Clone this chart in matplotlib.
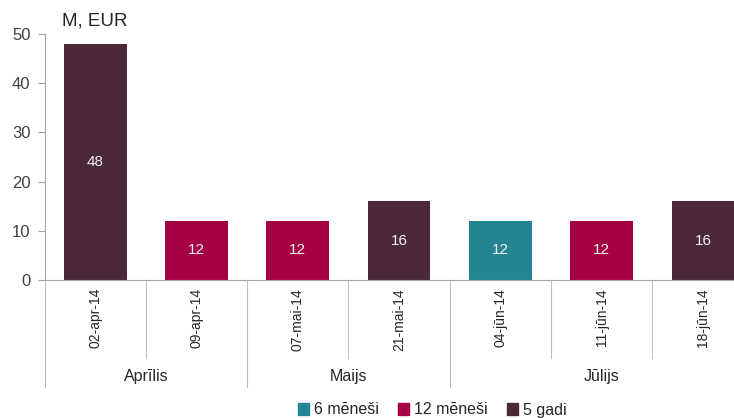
import numpy as np
import matplotlib.pyplot as plt
from matplotlib.patches import Patch
from matplotlib.transforms import blended_transform_factory

dates = ["02-apr-14", "09-apr-14", "07-mai-14", "21-mai-14", "04-jūn-14", "11-jūn-14", "18-jūn-14"]
values = [48, 12, 12, 16, 12, 12, 16]
tenor = ["5 gadi", "12 mēneši", "12 mēneši", "5 gadi", "6 mēneši", "12 mēneši", "5 gadi"]
groups = ["Aprīlis", "Maijs", "Jūlijs"]
group_sizes = [2, 2, 3]
legend_order = ["6 mēneši", "12 mēneši", "5 gadi"]
COL = {"6 mēneši": "#258494", "12 mēneši": "#A50044", "5 gadi": "#4A2838"}

plt.rcParams["font.family"] = ["Liberation Sans", "DejaVu Sans"]
W, H = 734, 418
fig = plt.figure(figsize=(W / 100, H / 100), dpi=100)
x0, x1, ytop, ybot = 44.5, 753.6, 34, 280
ax = fig.add_axes([x0 / W, 1 - ybot / H, (x1 - x0) / W, (ybot - ytop) / H])

xc = np.arange(len(dates)) + 0.5
ax.bar(xc, values, 0.62, color=[COL[t] for t in tenor], edgecolor="none", zorder=2)
for x, v in zip(xc, values):
    ax.text(x, v / 2, str(v), ha="center", va="center", color="#F2F2F2", fontsize=11)

ax.set_xlim(0, len(dates))
ax.set_ylim(0, 50)
ax.set_yticks(range(0, 51, 10))
ax.set_xticks([])
ax.tick_params(axis="y", length=5, color="#A6A6A6", labelsize=12, labelcolor="#404040", pad=5)
for s in ["top", "right"]:
    ax.spines[s].set_visible(False)
for s in ["left", "bottom"]:
    ax.spines[s].set_color("#A6A6A6")
ax.text(0.025, 1.02, "M, EUR", transform=ax.transAxes, fontsize=13.5, color="#262626",
        ha="left", va="bottom")

# category axis: dates, separators, month groups
tr = blended_transform_factory(ax.transData, ax.transAxes)
py = lambda p: (ybot - p) / (ybot - ytop)
for x, d in zip(xc, dates):
    ax.text(x, py(288), d, rotation=90, ha="center", va="top", fontsize=10,
            color="#262626", transform=tr)
bounds = np.cumsum([0] + group_sizes)
for b in range(len(dates) + 1):
    low = py(387) if b in bounds else py(358)
    ax.plot([b, b], [0, low], color="#BFBFBF", lw=0.8, transform=tr, clip_on=False)
for g, a, b in zip(groups, bounds[:-1], bounds[1:]):
    ax.text((a + b) / 2, py(377), g, ha="center", va="center", fontsize=11.5,
            color="#262626", transform=tr)

handles = [Patch(color=COL[t], label=t) for t in legend_order]
fig.legend(handles=handles, loc="center", bbox_to_anchor=(432 / W, 1 - 410 / H), ncol=3,
           frameon=False, fontsize=11.5, handlelength=0.7, handleheight=0.7,
           handletextpad=0.3, columnspacing=1.2, labelcolor="#262626")

fig.savefig("out.png", dpi=100)
